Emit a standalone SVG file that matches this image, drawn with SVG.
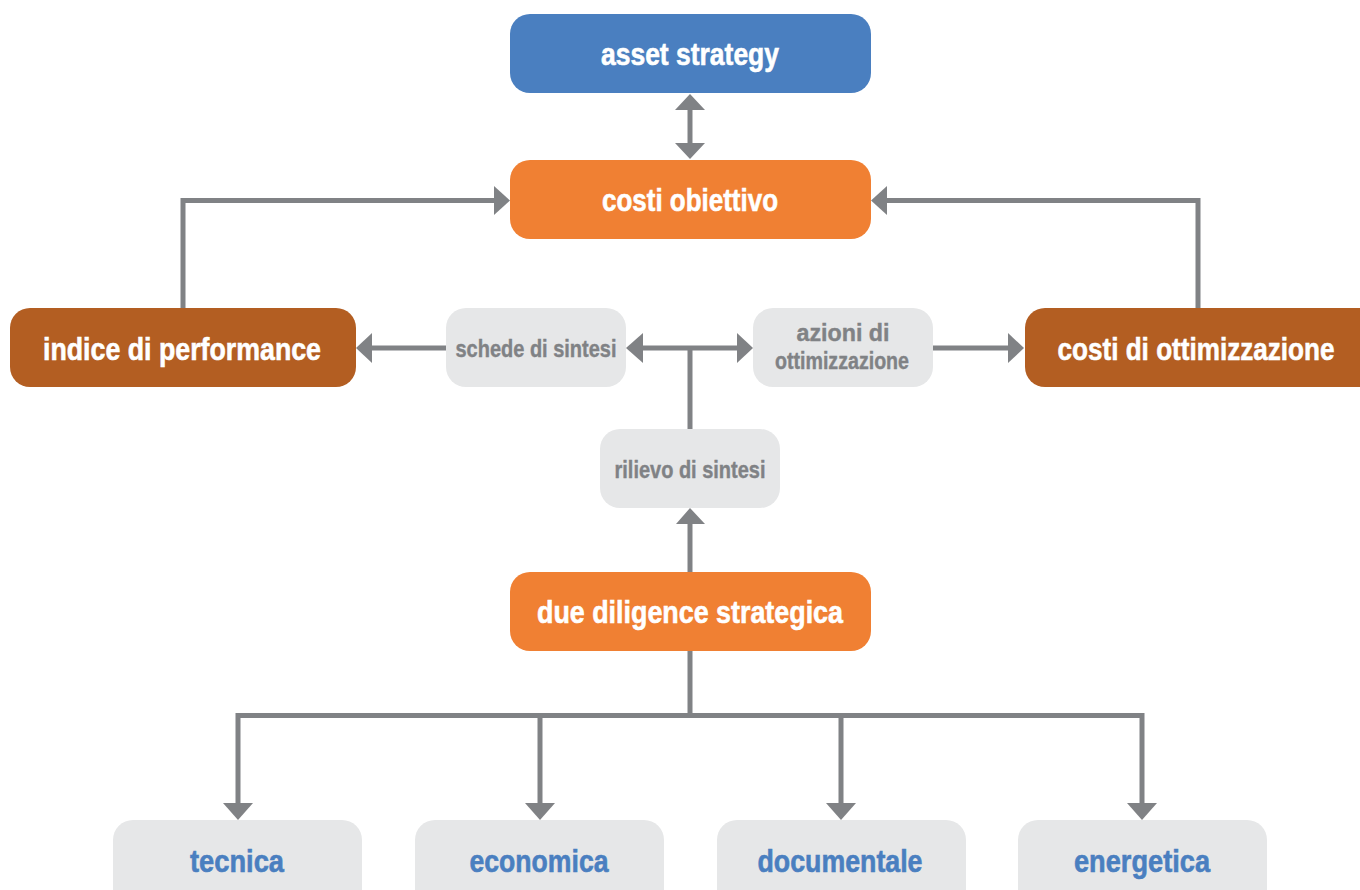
<svg xmlns="http://www.w3.org/2000/svg" width="1360" height="890" viewBox="0 0 1360 890">
<style>
.blue{fill:#4a7fc0}
.orange{fill:#f08033}
.dark{fill:#b35e22}
.grey{fill:#e6e7e8}
.t{font-family:"Liberation Sans",Arial,sans-serif;font-weight:bold;text-anchor:middle}
.w{fill:#ffffff;font-size:32px;stroke:#ffffff;stroke-width:0.6}
.g{fill:#808285;font-size:24px;stroke:#808285;stroke-width:0.4}
.b{fill:#4a7fc0;font-size:32px;stroke:#4a7fc0;stroke-width:0.6}
.ln{fill:none;stroke:#808285;stroke-width:5}
.ah{fill:#808285}
</style>
<rect width="1360" height="890" fill="#ffffff"/>
<g id="connectors">
  <path class="ln" d="M690 108 V146"/>
  <polygon class="ah" points="690,94 675,110 705,110"/>
  <polygon class="ah" points="690,159 675,143 705,143"/>
  <path class="ln" d="M183 308 V200.5 H496"/>
  <polygon class="ah" points="510,200.5 494,186 494,215"/>
  <path class="ln" d="M1198 308 V200.5 H886"/>
  <polygon class="ah" points="871,200.5 887,186 887,215"/>
  <path class="ln" d="M446 348 H371"/>
  <polygon class="ah" points="356,348 372,333 372,363"/>
  <path class="ln" d="M690 429 V348 M642 348 H738"/>
  <polygon class="ah" points="626,348 643,333 643,363"/>
  <polygon class="ah" points="753,348 737,333 737,363"/>
  <path class="ln" d="M933 348 H1010"/>
  <polygon class="ah" points="1024,348 1008,333 1008,363"/>
  <path class="ln" d="M690 572 V522"/>
  <polygon class="ah" points="690,508 676,524 705,524"/>
  <path class="ln" d="M690 651 V715.5 M238 806 V715.5 H1142 V806 M540 715.5 V806 M841 715.5 V806"/>
  <polygon class="ah" points="238,820 223,803 253,803"/>
  <polygon class="ah" points="540,820 525,803 555,803"/>
  <polygon class="ah" points="841,820 826,803 856,803"/>
  <polygon class="ah" points="1142,820 1127,803 1157,803"/>
</g>
<g id="asset-strategy">
  <rect class="blue" x="510" y="14" width="361" height="79" rx="20"/>
  <text class="t w" x="690" y="65" textLength="178" lengthAdjust="spacingAndGlyphs">asset strategy</text>
</g>
<g id="costi-obiettivo">
  <rect class="orange" x="510" y="160" width="361" height="79" rx="20"/>
  <text class="t w" x="690" y="211" textLength="176" lengthAdjust="spacingAndGlyphs">costi obiettivo</text>
</g>
<g id="indice-di-performance">
  <rect class="dark" x="10" y="308" width="346" height="79" rx="20"/>
  <text class="t w" x="182" y="360" textLength="278" lengthAdjust="spacingAndGlyphs">indice di performance</text>
</g>
<g id="schede-di-sintesi">
  <rect class="grey" x="446" y="308" width="180" height="79" rx="20"/>
  <text class="t g" x="536" y="357" textLength="161" lengthAdjust="spacingAndGlyphs">schede di sintesi</text>
</g>
<g id="azioni-di-ottimizzazione">
  <rect class="grey" x="753" y="308" width="180" height="79" rx="20"/>
  <text class="t g" x="843" y="341" textLength="93" lengthAdjust="spacingAndGlyphs">azioni di</text>
  <text class="t g" x="842" y="369" textLength="134" lengthAdjust="spacingAndGlyphs">ottimizzazione</text>
</g>
<g id="costi-di-ottimizzazione">
  <rect class="dark" x="1025" y="308" width="355" height="79" rx="20"/>
  <text class="t w" x="1196" y="360" textLength="277" lengthAdjust="spacingAndGlyphs">costi di ottimizzazione</text>
</g>
<g id="rilievo-di-sintesi">
  <rect class="grey" x="600" y="429" width="180" height="79" rx="20"/>
  <text class="t g" x="690" y="478" textLength="151" lengthAdjust="spacingAndGlyphs">rilievo di sintesi</text>
</g>
<g id="due-diligence-strategica">
  <rect class="orange" x="510" y="572" width="361" height="79" rx="20"/>
  <text class="t w" x="690" y="623" textLength="306" lengthAdjust="spacingAndGlyphs">due diligence strategica</text>
</g>
<g id="tecnica">
  <rect class="grey" x="113" y="820" width="249" height="100" rx="20"/>
  <text class="t b" x="237" y="872" textLength="94" lengthAdjust="spacingAndGlyphs">tecnica</text>
</g>
<g id="economica">
  <rect class="grey" x="415" y="820" width="249" height="100" rx="20"/>
  <text class="t b" x="539" y="872" textLength="139" lengthAdjust="spacingAndGlyphs">economica</text>
</g>
<g id="documentale">
  <rect class="grey" x="717" y="820" width="249" height="100" rx="20"/>
  <text class="t b" x="840" y="872" textLength="165" lengthAdjust="spacingAndGlyphs">documentale</text>
</g>
<g id="energetica">
  <rect class="grey" x="1018" y="820" width="249" height="100" rx="20"/>
  <text class="t b" x="1142" y="872" textLength="136" lengthAdjust="spacingAndGlyphs">energetica</text>
</g>
</svg>
